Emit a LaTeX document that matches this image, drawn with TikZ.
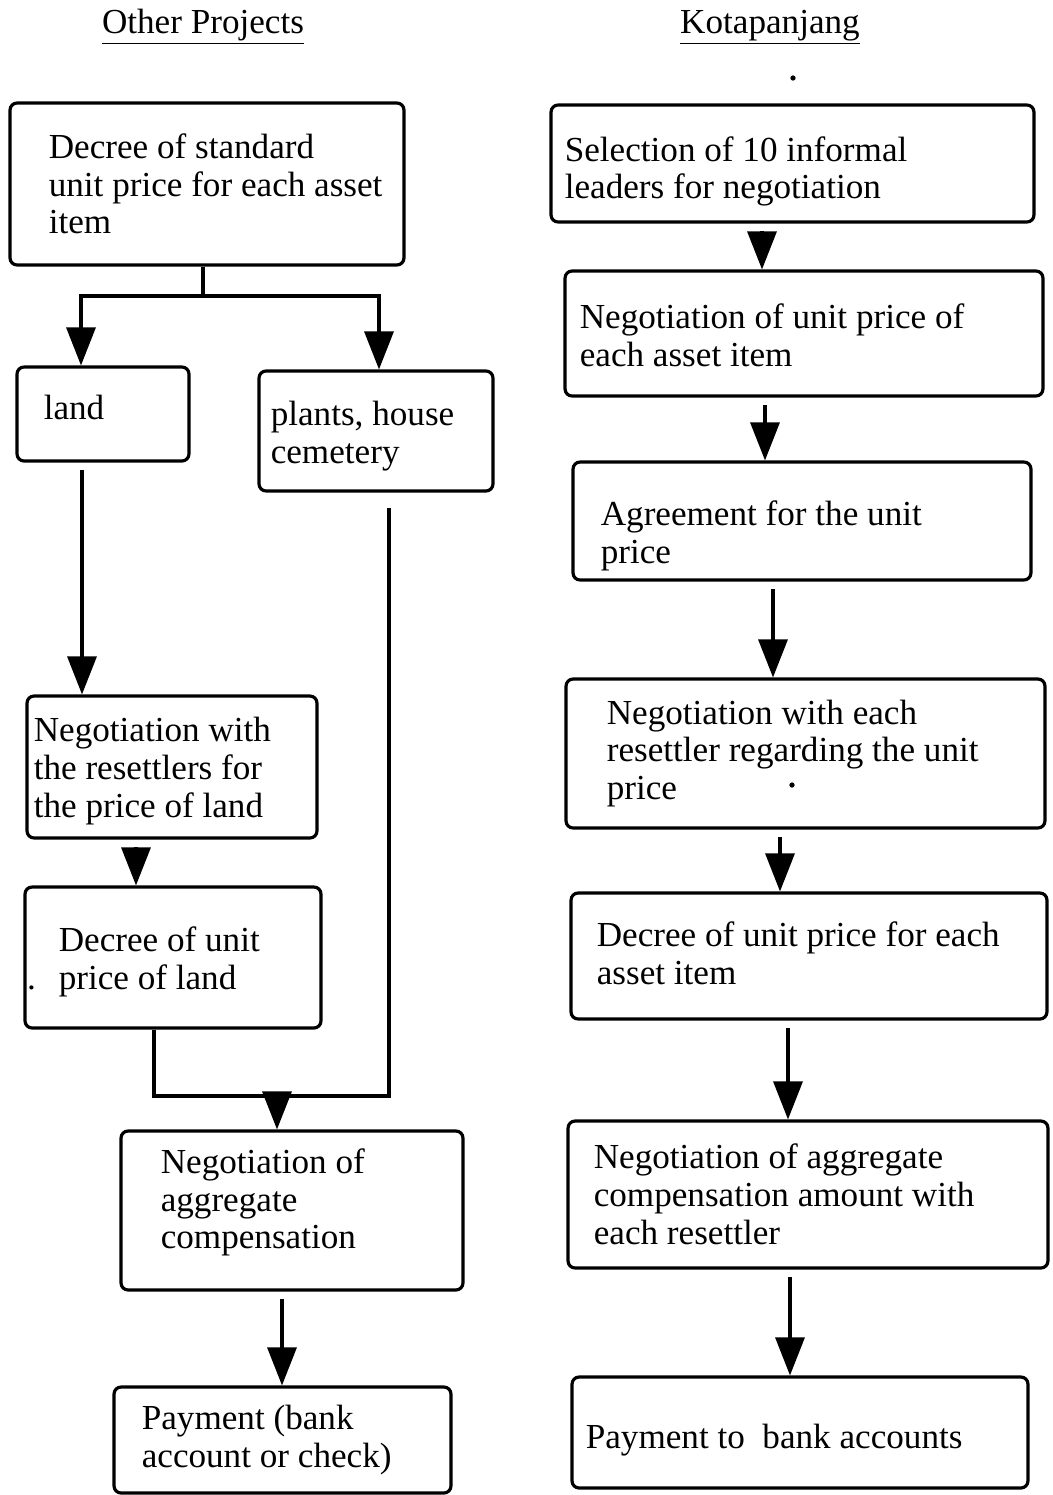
\documentclass[tikz,border=0pt]{standalone}
\usepackage{fontspec}
\setmainfont{Liberation Serif}
\usetikzlibrary{positioning,arrows.meta}

\tikzset{
  stepbox/.style={draw, line width=1.8pt, rounded corners=4pt, inner sep=0pt},
  steptext/.style={inner sep=0pt, align=left, font=\fontsize{20}{21.5}\selectfont},
  flow/.style={line width=1.8pt},
  flowarrow/.style={flow, -{Triangle[width=0.58cm,length=0.76cm]}, shorten <=0.15cm},
}

\begin{document}
\begin{tikzpicture}[x=0.02cm, y=-0.02cm]
  \useasboundingbox (0,0) rectangle (1053,1495);
  % column titles
  \node[steptext] (titleL) at (203,27) {\underline{Other Projects}};
  \node[steptext] (titleR) at (770,27) {\underline{Kotapanjang}};

  % left column: other projects
  \node[stepbox, minimum width=7.88cm, minimum height=3.24cm] (dec) at (207,184) {};
  \node[steptext, right=0.8cm of dec.west] (dectext) {Decree of standard\\unit price for each asset\\item};
  \node[stepbox, minimum width=3.44cm, minimum height=1.88cm] (land) at (103,414) {};
  \node[steptext, right=0.56cm of land.west, yshift=0.14cm] (landtext) {land};
  \node[stepbox, minimum width=4.68cm, minimum height=2.4cm] (plants) at (376,431) {};
  \node[steptext, right=0.26cm of plants.west, yshift=-0.1cm] (plantstext) {plants, house\\cemetery};
  \node[stepbox, minimum width=5.8cm, minimum height=2.84cm] (negw) at (172,767) {};
  \node[steptext, right=0.16cm of negw.west, yshift=-0.08cm] (negwtext) {Negotiation with\\the resettlers for\\the price of land};
  \node[stepbox, minimum width=5.92cm, minimum height=2.82cm] (dunit) at (173,957.5) {};
  \node[steptext, right=0.7cm of dunit.west, yshift=-0.08cm] (dunittext) {Decree of unit\\\llap{.\hspace{13pt}}price of land};
  \node[stepbox, minimum width=6.84cm, minimum height=3.18cm] (nagg) at (292,1210.5) {};
  \node[steptext, right=0.82cm of nagg.west, yshift=0.16cm] (naggtext) {Negotiation of\\aggregate\\compensation};
  \node[stepbox, minimum width=6.74cm, minimum height=2.12cm] (pay) at (282.5,1440) {};
  \node[steptext, right=0.58cm of pay.west] (paytext) {Payment (bank\\account or check)};

  % right column: kotapanjang
  \node[stepbox, minimum width=9.66cm, minimum height=2.34cm] (sel) at (792.5,163.5) {};
  \node[steptext, right=0.3cm of sel.west, yshift=-0.16cm] (seltext) {Selection of 10 informal\\leaders for negotiation};
  \node[stepbox, minimum width=9.56cm, minimum height=2.5cm] (neg) at (804,333.5) {};
  \node[steptext, right=0.32cm of neg.west, yshift=-0.04cm] (negtext) {Negotiation of unit price of\\each asset item};
  \node[stepbox, minimum width=9.16cm, minimum height=2.36cm] (agr) at (802,521) {};
  \node[steptext, right=0.58cm of agr.west, yshift=-0.3cm] (agrtext) {Agreement for the unit\\price};
  \node[stepbox, minimum width=9.58cm, minimum height=2.98cm] (negr) at (805.5,753.5) {};
  \node[steptext, right=0.84cm of negr.west] (negrtext) {Negotiation with each\\resettler regarding the unit\\price};
  \node[stepbox, minimum width=9.52cm, minimum height=2.52cm] (decr) at (809,956) {};
  \node[steptext, right=0.54cm of decr.west, yshift=0.06cm] (decrtext) {Decree of unit price for each\\asset item};
  \node[stepbox, minimum width=9.6cm, minimum height=2.94cm] (nagr) at (808,1194.5) {};
  \node[steptext, right=0.54cm of nagr.west] (nagrtext) {Negotiation of aggregate\\compensation amount with\\each resettler};
  \node[stepbox, minimum width=9.12cm, minimum height=2.22cm] (payr) at (800,1432.5) {};
  \node[steptext, right=0.3cm of payr.west, yshift=-0.16cm] (payrtext) {Payment to \ bank accounts};

  % left connectors
  \coordinate (fork) at (203,296);
  \draw[flow] (dec.south -| fork) -- (fork);
  \draw[flowarrow, shorten <=0pt] (fork) -| (land.north -| 81,0);
  \draw[flowarrow, shorten <=0pt] (fork) -| (plants.north -| 379,0);
  \draw[flowarrow] (land.south -| 82,0) -- (negw.north -| 82,0);
  \draw[flowarrow] (negw.south -| 136,0) -- (dunit.north -| 136,0);
  \coordinate (merge) at (277,1096);
  \draw[flow] (dunit.south -| 154,0) |- (merge);
  \draw[flow, shorten <=0.3cm] (plants.south -| 389,0) |- (merge);
  \draw[flowarrow, shorten <=0pt] (merge) -- (nagg.north -| merge);
  \draw[flowarrow] (nagg.south -| 282,0) -- (pay.north -| 282,0);

  % right connectors
  \draw[flowarrow] (sel.south -| 762,0) -- (neg.north -| 762,0);
  \draw[flowarrow] (neg.south -| 765,0) -- (agr.north -| 765,0);
  \draw[flowarrow] (agr.south -| 773,0) -- (negr.north -| 773,0);
  \draw[flowarrow] (negr.south -| 780,0) -- (decr.north -| 780,0);
  \draw[flowarrow] (decr.south -| 788,0) -- (nagr.north -| 788,0);
  \draw[flowarrow] (nagr.south -| 790,0) -- (payr.north -| 790,0);

  % stray marks
  \fill (793,78) circle (1.5pt);
  \fill (792,785) circle (1.5pt);
\end{tikzpicture}
\end{document}
